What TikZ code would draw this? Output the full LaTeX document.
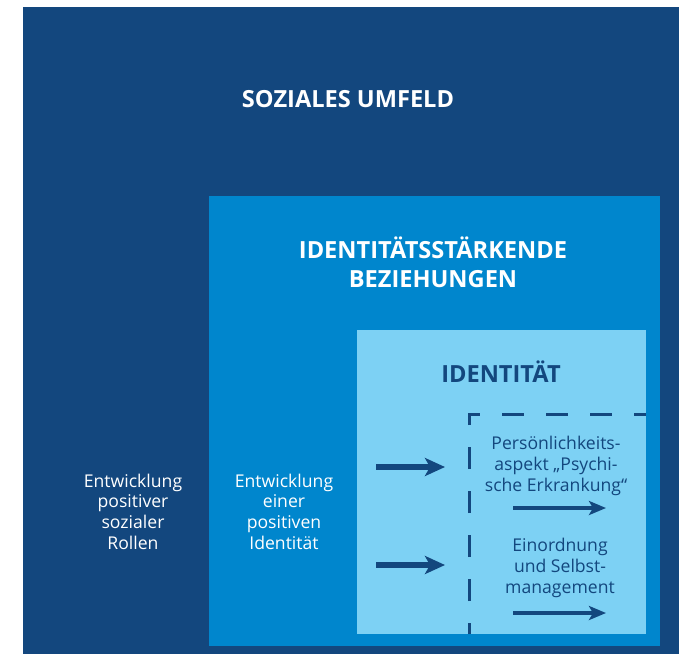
\documentclass[tikz,border=0pt]{standalone}
\usepackage{fontspec}
\setmainfont{Open Sans}
\usepackage{tikz}
\usetikzlibrary{arrows.meta, positioning}
\definecolor{umfeld}{HTML}{13477E}
\definecolor{bezieh}{HTML}{0086CD}
\definecolor{ident}{HTML}{7DD1F4}

\begin{document}
\begin{tikzpicture}[x=1pt, y=-1pt, >={Stealth[length=20pt, width=18pt, inset=5pt]},
        titel/.style={font=\bfseries\fontsize{23.6}{29}\selectfont, align=center, inner sep=0pt},
        txt/.style={font=\fontsize{17.6}{20.6}\selectfont, align=center, inner sep=0pt},
        dick/.style={->, line width=6pt, draw=umfeld},
        duenn/.style={-{Stealth[length=17pt, width=14pt, inset=4pt]}, line width=3.5pt, draw=umfeld}]
    \useasboundingbox (0,0) rectangle (679,654);
    \fill[umfeld] (23,7) rectangle (679,654);
    \fill[bezieh] (209,196) rectangle (660,646);
    \fill[ident] (357,330) rectangle (646,634);
    \node[titel, text=white, anchor=base] (umfeldtitel) at (348,107) {SOZIALES UMFELD};
    \node[titel, text=white, anchor=base] (beztitel) at (433,287) {IDENTITÄTSSTÄRKENDE\\BEZIEHUNGEN};
    \node[titel, text=umfeld, anchor=base] (identtitel) at (501,382) {IDENTITÄT};
    \node[txt, text=white, anchor=base] (rollen) at (133,549) {Entwicklung\\positiver\\sozialer\\Rollen};
    \node[txt, text=white, anchor=base] (identitaet) at (284,549) {Entwicklung\\einer\\positiven\\Identität};
    \node[txt, text=umfeld, anchor=base] (aspekt) at (556,491) {Persönlichkeits-\\aspekt „Psychi-\\sche Erkrankung“};
    \node[txt, text=umfeld, anchor=base] (selbst) at (560,593) {Einordnung\\und Selbst-\\management};
    % gestrichelte Grenze
    \coordinate (unten) at (469,634);
    \coordinate (ecke) at (469,414);
    \coordinate (rechts) at (646,414);
    \draw[umfeld, line width=3pt, dash pattern=on 22pt off 22pt, dash phase=11pt] (unten) -- (ecke) -- (rechts);
    % Pfeile
    \coordinate (a1) at (376,467); \coordinate (b1) at (445,467);
    \coordinate (a2) at (376,565); \coordinate (b2) at (445,565);
    \coordinate (c1) at (513,508); \coordinate (d1) at (606,508);
    \coordinate (c2) at (513,613); \coordinate (d2) at (606,613);
    \draw[dick] (a1) -- (b1);
    \draw[dick] (a2) -- (b2);
    \draw[duenn] (c1) -- (d1);
    \draw[duenn] (c2) -- (d2);
\end{tikzpicture}
\end{document}
